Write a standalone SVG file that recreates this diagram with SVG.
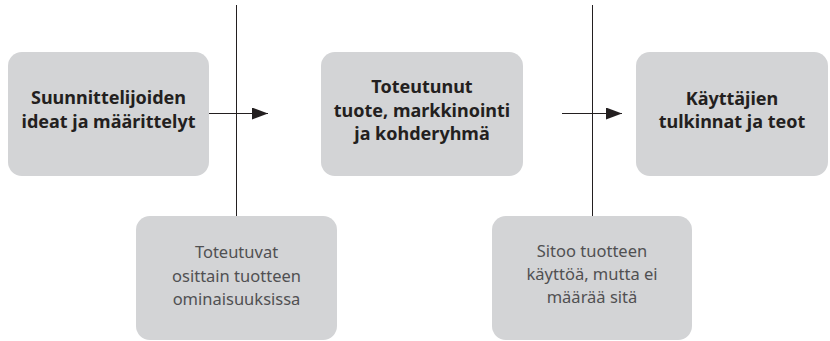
<svg xmlns="http://www.w3.org/2000/svg" width="830" height="341" viewBox="0 0 830 341">
  <style>
    .box { fill: #d3d4d6; }
    .main { font-family: "Noto Sans", "Open Sans", sans-serif; font-weight: bold; font-size: 18px; fill: #231f20; text-anchor: middle; }
    .note { font-family: "Noto Sans", "Open Sans", sans-serif; font-size: 16.5px; fill: #505052; text-anchor: middle; }
    .line { stroke: #231f20; stroke-width: 1; fill: none; }
  </style>
  <defs>
    <marker id="arrow" markerUnits="userSpaceOnUse" markerWidth="17" markerHeight="12" refX="16" refY="6" orient="auto">
      <path d="M0,0 L16,6 L0,12 Z" fill="#231f20"/>
    </marker>
  </defs>

  <g id="connectors">
    <line class="line" x1="236.5" y1="5" x2="236.5" y2="216"/>
    <line class="line" x1="592.5" y1="5" x2="592.5" y2="216"/>
    <line class="line" x1="209" y1="113.5" x2="268" y2="113.5" marker-end="url(#arrow)"/>
    <line class="line" x1="562" y1="113.5" x2="622" y2="113.5" marker-end="url(#arrow)"/>
  </g>

  <g id="designers">
    <rect class="box" x="8" y="52" width="201" height="124" rx="14"/>
    <text class="main"><tspan x="108.5" y="104">Suunnittelijoiden</tspan><tspan x="108.5" y="128">ideat ja määrittelyt</tspan></text>
  </g>

  <g id="product">
    <rect class="box" x="321" y="52" width="202" height="124" rx="14"/>
    <text class="main"><tspan x="422" y="93">Toteutunut</tspan><tspan x="422" y="117">tuote, markkinointi</tspan><tspan x="422" y="140">ja kohderyhmä</tspan></text>
  </g>

  <g id="users">
    <rect class="box" x="636" y="52" width="192" height="124" rx="14"/>
    <text class="main"><tspan x="732" y="105">Käyttäjien</tspan><tspan x="732" y="128">tulkinnat ja teot</tspan></text>
  </g>

  <g id="note-features">
    <rect class="box" x="136" y="216" width="201" height="124" rx="14"/>
    <text class="note"><tspan x="236.5" y="258">Toteutuvat</tspan><tspan x="236.5" y="282">osittain tuotteen</tspan><tspan x="236.5" y="305">ominaisuuksissa</tspan></text>
  </g>

  <g id="note-usage">
    <rect class="box" x="492" y="216" width="200" height="124" rx="14"/>
    <text class="note"><tspan x="592" y="257">Sitoo tuotteen</tspan><tspan x="592" y="280">käyttöä, mutta ei</tspan><tspan x="592" y="303">määrää sitä</tspan></text>
  </g>
</svg>
